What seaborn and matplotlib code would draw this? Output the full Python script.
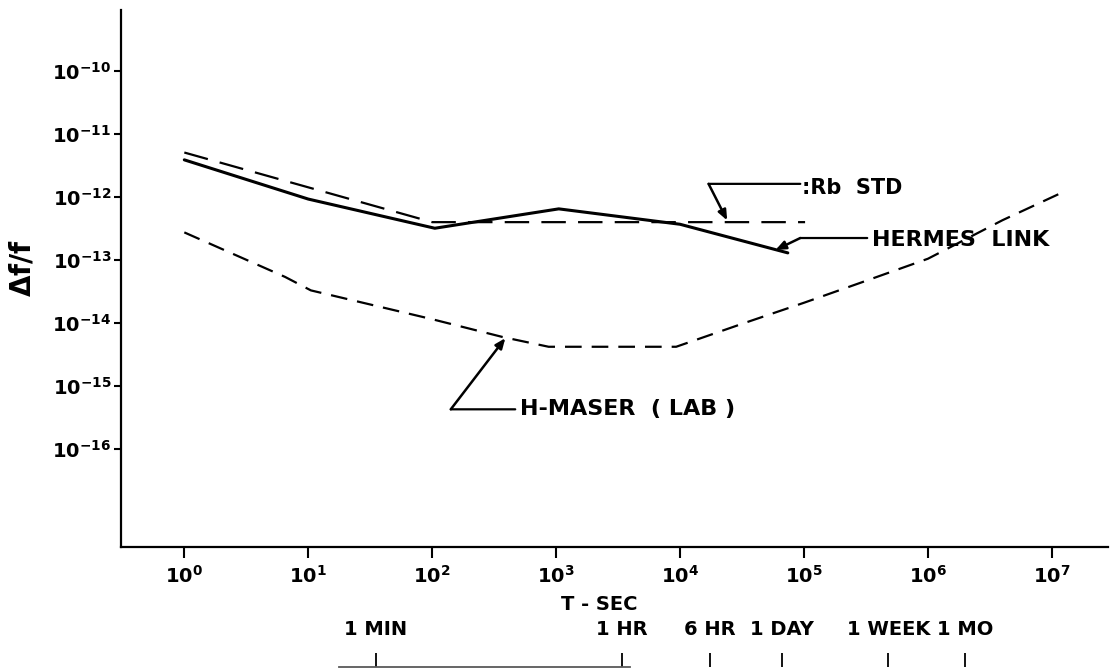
import matplotlib.pyplot as plt
import numpy as np
import pandas as pd
import seaborn as sns

# averaging time (s) and fractional frequency stability
rb_tau = [1, 100, 1.02e5]
rb_sigma = [5.1e-12, 4.0e-13, 4.0e-13]

hermes_tau = [1, 10, 105, 1050, 1.0e4, 7.4e4]
hermes_sigma = [3.9e-12, 9.3e-13, 3.2e-13, 6.5e-13, 3.7e-13, 1.3e-13]

maser_tau = [1, 6.5, 10.5, 100, 370, 870, 9300, 3.3e4, 1.0e5, 2.8e5, 1.0e6, 4.0e6, 1.23e7]
maser_sigma = [2.75e-13, 5.4e-14, 3.3e-14, 1.15e-14, 6.0e-15, 4.2e-15, 4.2e-15,
               1.0e-14, 2.1e-14, 4.3e-14, 1.05e-13, 4.3e-13, 1.2e-12]

x_exponents = [0, 1, 2, 3, 4, 5, 6, 7]
y_exponents = [-10, -11, -12, -13, -14, -15, -16]

# the time scale drawn under the axis (positions as drawn in the original)
time_secs = [35, 3400, 17500, 66000, 4.8e5, 2.0e6]
time_labels = ["1 MIN", "1 HR", "6 HR", "1 DAY", "1 WEEK", "1 MO"]

sns.set_style("ticks")
plt.rcParams["font.family"] = ["DejaVu Sans"]
plt.rcParams["font.weight"] = "bold"
plt.rcParams["mathtext.fontset"] = "dejavusans"
plt.rcParams["mathtext.default"] = "bf"
for k in ["text.color", "axes.labelcolor", "xtick.color", "ytick.color", "axes.edgecolor"]:
    plt.rcParams[k] = "black"

fig = plt.figure(figsize=(11.11, 6.69), dpi=100)
ax = fig.add_axes([0.109, 0.182, 0.888, 0.803])
ax.set_xscale("log")
ax.set_yscale("log")

sns.lineplot(x=hermes_tau, y=hermes_sigma, ax=ax, color="black", lw=2.2, sort=False)
sns.lineplot(x=rb_tau, y=rb_sigma, ax=ax, color="black", lw=1.6,
             linestyle=(0, (11, 5.5)), sort=False)
sns.lineplot(x=maser_tau, y=maser_sigma, ax=ax, color="black", lw=1.6,
             linestyle=(0, (7.5, 4.5)), sort=False)

ax.set_xlim(10 ** -0.51, 10 ** 7.45)
ax.set_ylim(10 ** -17.56, 10 ** -9.03)

ax.set_xticks([10.0 ** e for e in x_exponents],
              labels=[f"$10^{{{e}}}$" for e in x_exponents])
ax.set_yticks([10.0 ** e for e in y_exponents],
              labels=[f"$10^{{{e}}}$" for e in y_exponents])
ax.minorticks_off()
ax.tick_params(axis="x", length=8, width=1.5, labelsize=14, pad=5)
ax.tick_params(axis="y", length=5, width=1.5, labelsize=14, pad=2)
sns.despine(ax=ax)
for s in ["left", "bottom"]:
    ax.spines[s].set_linewidth(1.6)

ax.set_xlabel("T - SEC", fontsize=14, fontweight="bold")
ax.xaxis.set_label_coords(0.485, -0.088)
ax.set_ylabel("$\\Delta$f/f", fontsize=20, fontweight="bold")
ax.yaxis.set_label_coords(-0.086, 0.52)

# labels with leader lines
arrow = dict(arrowstyle="-|>,head_length=0.6,head_width=0.25", color="black", lw=1.8,
             shrinkA=0, shrinkB=0)
plain = dict(arrowstyle="-", color="black", lw=1.6, shrinkA=0, shrinkB=0)

# Rb STD
ax.annotate("", xy=(10 ** 4.23, 10 ** -11.79), xytext=(10 ** 4.97, 10 ** -11.79), arrowprops=plain)
ax.annotate("", xy=(10 ** 4.38, 10 ** -12.37), xytext=(10 ** 4.23, 10 ** -11.79), arrowprops=arrow)
ax.text(10 ** 4.98, 10 ** -11.86, ":Rb  STD", fontsize=15, fontweight="bold", va="center", ha="left")

# HERMES LINK
ax.annotate("", xy=(10 ** 4.97, 10 ** -12.65), xytext=(10 ** 5.51, 10 ** -12.65), arrowprops=plain)
ax.annotate("", xy=(10 ** 4.77, 10 ** -12.84), xytext=(10 ** 4.97, 10 ** -12.65), arrowprops=arrow)
ax.text(10 ** 5.55, 10 ** -12.68, "HERMES  LINK", fontsize=16, fontweight="bold", va="center", ha="left")

# H-MASER
ax.annotate("", xy=(10 ** 2.15, 10 ** -15.37), xytext=(10 ** 2.67, 10 ** -15.37), arrowprops=plain)
ax.annotate("", xy=(10 ** 2.59, 10 ** -14.24), xytext=(10 ** 2.15, 10 ** -15.37), arrowprops=arrow)
ax.text(10 ** 2.71, 10 ** -15.37, "H-MASER  ( LAB )", fontsize=16, fontweight="bold", va="center", ha="left")

# time scale below the axis
ax2 = fig.add_axes([0.109, 0.0025, 0.888, 0.0001])
ax2.set_xscale("log")
ax2.set_xlim(ax.get_xlim())
ax2.set_yticks([])
ax2.set_xticks(time_secs, labels=time_labels)
ax2.minorticks_off()
ax2.xaxis.tick_top()
ax2.tick_params(axis="x", direction="out", length=10, width=1.3, labelsize=14, pad=10)
for s in ["left", "right", "bottom"]:
    ax2.spines[s].set_visible(False)
ax2.spines["top"].set_bounds(10 ** 1.25, 10 ** 3.6)
ax2.spines["top"].set_color("0.35")
ax2.spines["top"].set_linewidth(1.3)
ax2.patch.set_visible(False)

fig.savefig("out.png", dpi=100)
